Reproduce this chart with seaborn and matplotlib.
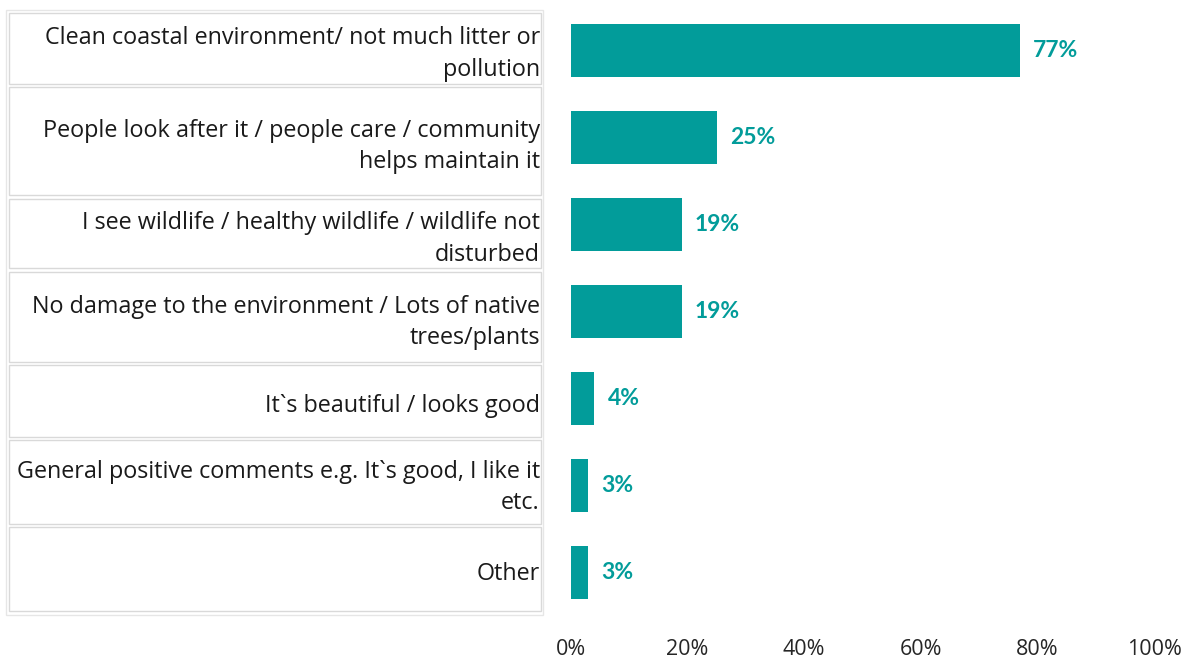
import matplotlib
matplotlib.use("Agg")
import matplotlib.pyplot as plt
from matplotlib.patches import Rectangle
import seaborn as sns
import pandas as pd

categories = [
    "Clean coastal environment/ not much litter or\npollution",
    "People look after it / people care / community\nhelps maintain it",
    "I see wildlife / healthy wildlife / wildlife not\ndisturbed",
    "No damage to the environment / Lots of native\ntrees/plants",
    "It`s beautiful / looks good",
    "General positive comments e.g. It`s good, I like it\netc.",
    "Other",
]
values = [77, 25, 19, 19, 4, 3, 3]
value_labels = ["77%", "25%", "19%", "19%", "4%", "3%", "3%"]
tick_values = [0, 20, 40, 60, 80, 100]
tick_labels = ["0%", "20%", "40%", "60%", "80%", "100%"]

TEAL = "#029C9A"
W, H = 1186, 659

sns.set_theme(style="white")
plt.rcParams["font.family"] = ["Open Sans", "DejaVu Sans"]

df = pd.DataFrame({"category": categories, "value": values})

fig = plt.figure(figsize=(W / 100, H / 100), dpi=100)
ax = fig.add_axes([571 / W, 1 - 615.5 / H, 583 / W, 608 / H])

sns.barplot(data=df, y="category", x="value", orient="h", color=TEAL,
            saturation=1, width=0.61, ax=ax, edgecolor="none")

ax.set_xlim(0, 100)
ax.set_ylim(len(categories) - 0.5, -0.5)
ax.set_xticks(tick_values)
ax.set_xticklabels(tick_labels, fontsize=15.5, color="#262626")
ax.tick_params(axis="x", length=0, pad=17)
ax.set_yticks([])
ax.set_xlabel("")
ax.set_ylabel("")
for s in ax.spines.values():
    s.set_visible(False)

# value labels to the right of each bar
for i, (v, lab) in enumerate(zip(values, value_labels)):
    ax.annotate(lab, xy=(v, i), xytext=(9.5, 0), textcoords="offset points",
                ha="left", va="center", fontsize=16.5, fontweight="bold",
                family=["Lato", "DejaVu Sans"], color=TEAL)

# category labels drawn as a column of bordered cells
def fx(px):
    return px / W

def fy(py):
    return 1 - py / H

border = "#D9D9D9"
fig.patches.append(Rectangle((fx(6), fy(615)), fx(543) - fx(6), fy(10) - fy(615),
                             transform=fig.transFigure, fill=False,
                             edgecolor="#E6E6E6", linewidth=1))
cells = [(13, 84), (87, 195), (199, 268), (272, 362), (365, 437), (440, 524), (527, 611)]
for (top, bot), label in zip(cells, categories):
    fig.patches.append(Rectangle((fx(9), fy(bot)), fx(541) - fx(9), fy(top) - fy(bot),
                                 transform=fig.transFigure, fill=False,
                                 edgecolor=border, linewidth=1))
    fig.text(fx(540), fy((top + bot) / 2 + 5.5), label, ha="right", va="center",
             fontsize=16.8, color="#1a1a1a", linespacing=1.42,
             multialignment="right")

fig.savefig("out.png", dpi=100)
